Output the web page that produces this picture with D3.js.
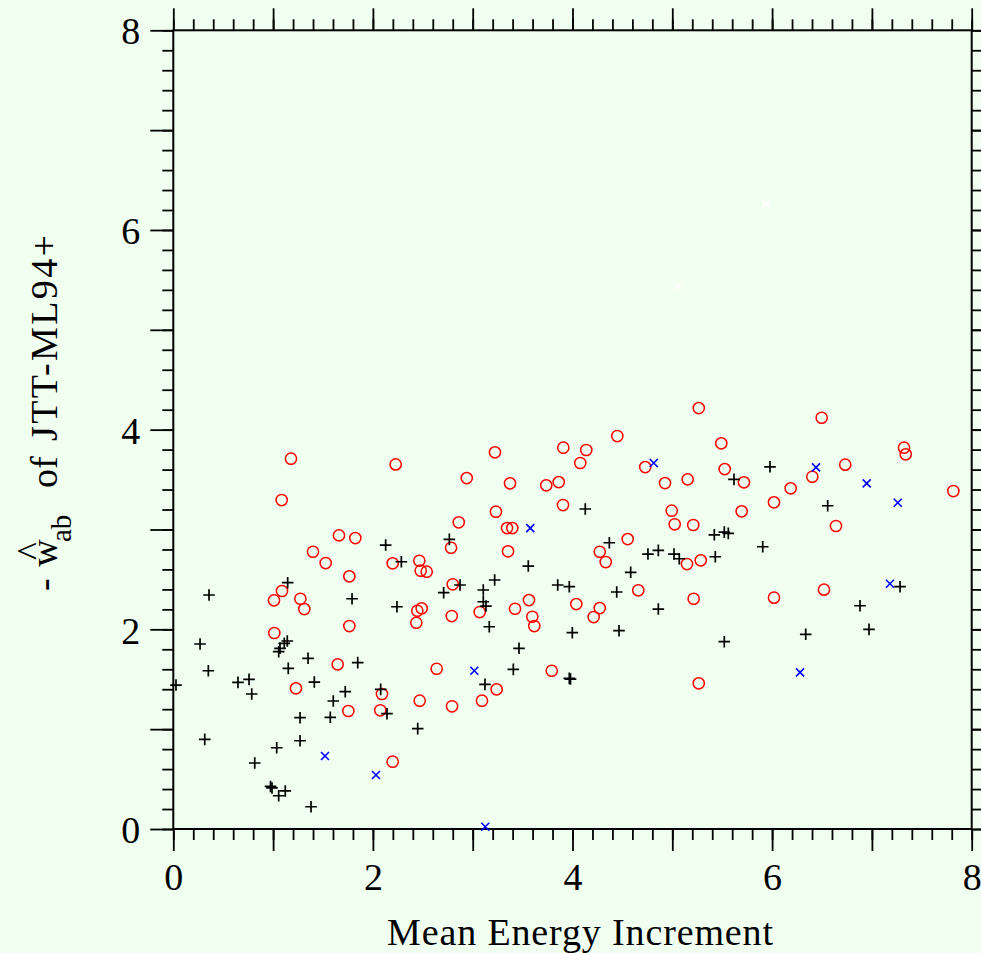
<!DOCTYPE html>
<html><head><meta charset="utf-8">
<script src="https://cdn.jsdelivr.net/npm/d3@7/dist/d3.min.js"></script>
<style>
body{margin:0;background:#f0fff0;} svg{display:block}
text{font-family:"Liberation Serif","Times New Roman",Times,serif;}
</style>
</head><body><svg id="c" width="981" height="953"></svg>
<script>
// ---- data ----
const majorTicks = [0,1,2,3,4,5,6,7,8];
const labelTicks = [0,2,4,6,8];
const minorTicks = d3.range(0, 41).map(i => i / 5);

const redCircles = [
[1.179,3.709],[2.228,3.652],[3.223,3.773],[2.940,3.515],[1.086,3.295],[3.233,3.178],[2.860,3.072],
[1.660,2.941],[1.824,2.914],[2.783,2.817],[1.400,2.777],[1.527,2.664],[2.198,2.661],[2.465,2.687],
[2.479,2.587],[2.539,2.577],[1.764,2.531],[2.800,2.451],[1.089,2.384],[1.009,2.290],[1.273,2.306],
[1.313,2.203],[2.445,2.186],[2.489,2.210],[2.790,2.133],[3.070,2.173],[2.435,2.066],[1.764,2.033],
[1.012,1.963],[1.647,1.649],[2.639,1.605],[3.240,1.399],[1.229,1.409],[2.091,1.352],[2.469,1.285],
[2.793,1.229],[3.093,1.285],[1.754,1.182],[2.074,1.189],[2.198,0.674],
[5.265,4.216],[4.449,3.936],[5.491,3.863],[3.908,3.819],[4.138,3.796],[4.078,3.666],[4.729,3.625],
[5.525,3.605],[3.374,3.462],[3.737,3.442],[3.862,3.475],[4.927,3.465],[5.154,3.502],[3.905,3.245],
[3.344,3.014],[3.397,3.014],[4.994,3.188],[5.024,3.052],[5.210,3.045],[3.354,2.781],[4.553,2.904],
[4.273,2.777],[4.333,2.674],[5.147,2.654],[5.285,2.691],[4.659,2.391],[5.214,2.306],[3.564,2.293],
[3.424,2.206],[4.038,2.253],[4.273,2.213],[3.597,2.126],[4.212,2.123],[3.617,2.033],[3.792,1.585],
[5.265,1.459],
[6.497,4.119],[7.322,3.819],[7.339,3.753],[6.733,3.649],[6.403,3.528],[5.718,3.472],[6.186,3.412],
[6.019,3.272],[7.816,3.385],[5.695,3.182],[6.640,3.035],[6.019,2.317],[6.520,2.397]
];

const blackPlus = [
[2.128,2.844],[2.766,2.901],[2.285,2.677],[3.220,2.494],[1.146,2.467],[2.873,2.444],[0.358,2.344],
[2.709,2.367],[3.106,2.394],[1.791,2.306],[3.106,2.276],[3.133,2.233],[2.241,2.226],[3.166,2.026],
[0.268,1.853],[1.069,1.810],[1.112,1.860],[1.142,1.883],[1.056,1.776],[1.350,1.710],[0.351,1.585],
[1.152,1.609],[1.848,1.666],[3.123,1.449],[0.027,1.442],[0.648,1.469],[0.759,1.499],[0.786,1.352],
[1.413,1.472],[1.723,1.375],[2.078,1.399],[1.603,1.282],[1.270,1.115],[1.573,1.119],[2.141,1.155],
[2.449,1.005],[0.315,0.898],[1.036,0.814],[1.270,0.884],[0.816,0.661],[0.974,0.426],[0.989,0.411],
[1.056,0.333],[1.122,0.381],[1.380,0.223],
[4.128,3.205],[5.421,2.947],[5.521,2.974],[5.561,2.961],[3.557,2.634],[4.369,2.867],[4.756,2.754],
[4.860,2.791],[5.017,2.754],[5.070,2.707],[5.431,2.727],[4.583,2.571],[3.852,2.444],[3.968,2.427],
[4.443,2.374],[4.860,2.203],[3.998,1.966],[4.466,1.986],[5.521,1.876],[3.464,1.810],[3.407,1.599],
[3.968,1.509],[3.980,1.502],
[5.979,3.628],[5.618,3.502],[6.557,3.238],[5.906,2.827],[7.282,2.427],[6.881,2.236],[6.971,2.000],
[6.337,1.950]
];

const blueCross = [
[3.016,1.585],[1.520,0.731],[2.031,0.541],[3.126,0.023],[4.814,3.666],[3.577,3.014],
[6.440,3.622],[6.948,3.462],[7.259,3.268],[7.181,2.457],[6.280,1.569]
];

const whiteCross = [[5.939,6.256],[5.054,5.441]];

// ---- drawing ----
const svg = d3.select("#c");
const W = 981, H = 953;
svg.append("rect").attr("width", W).attr("height", H).attr("fill", "#f0fff0");

const x = d3.scaleLinear().domain([0, 8]).range([173.3, 971.7]);
const y = d3.scaleLinear().domain([0, 8]).range([829, 30.3]);

function styleAxis(g) {
  g.select(".domain").remove();
  g.attr("font-family", null);
  g.selectAll(".tick line").attr("stroke", "#000").attr("stroke-width", 1.8);
  g.selectAll("text").attr("font-size", 38).attr("fill", "#000");
}
const fmt = d => (labelTicks.includes(d) ? d : "");

// bottom
svg.append("g").attr("transform", `translate(0,${y(0)})`)
  .call(d3.axisBottom(x).tickValues(minorTicks).tickSize(11).tickFormat("")).call(styleAxis);
svg.append("g").attr("transform", `translate(0,${y(0)})`)
  .call(d3.axisBottom(x).tickValues(majorTicks).tickSize(22).tickPadding(12).tickFormat(fmt)).call(styleAxis);
// top
svg.append("g").attr("transform", `translate(0,${y(8)})`)
  .call(d3.axisTop(x).tickValues(minorTicks).tickSize(11).tickFormat("")).call(styleAxis);
svg.append("g").attr("transform", `translate(0,${y(8)})`)
  .call(d3.axisTop(x).tickValues(majorTicks).tickSize(22).tickFormat("")).call(styleAxis);
// left
svg.append("g").attr("transform", `translate(${x(0)},0)`)
  .call(d3.axisLeft(y).tickValues(minorTicks).tickSize(11).tickFormat("")).call(styleAxis);
const gl = svg.append("g").attr("transform", `translate(${x(0)},0)`)
  .call(d3.axisLeft(y).tickValues(majorTicks).tickSize(23).tickPadding(10).tickFormat(fmt)).call(styleAxis);
gl.selectAll("text").attr("dy", "0.36em");
// right
svg.append("g").attr("transform", `translate(${x(8)},0)`)
  .call(d3.axisRight(y).tickValues(minorTicks).tickSize(11).tickFormat("")).call(styleAxis);
svg.append("g").attr("transform", `translate(${x(8)},0)`)
  .call(d3.axisRight(y).tickValues(majorTicks).tickSize(22).tickFormat("")).call(styleAxis);

// frame
svg.append("rect").attr("x", x(0)).attr("y", y(8))
  .attr("width", x(8) - x(0)).attr("height", y(0) - y(8))
  .attr("fill", "none").attr("stroke", "#000").attr("stroke-width", 2);

// marks
const plot = svg.append("g");
plot.selectAll("circle.red").data(redCircles).join("circle").attr("class", "red")
  .attr("cx", d => x(d[0])).attr("cy", d => y(d[1])).attr("r", 5.6)
  .attr("fill", "none").attr("stroke", "#ff0000").attr("stroke-width", 1.5);
plot.selectAll("path.plus").data(blackPlus).join("path").attr("class", "plus")
  .attr("transform", d => `translate(${x(d[0])},${y(d[1])})`)
  .attr("d", "M-5.8,0H5.8M0,-5.8V5.8")
  .attr("stroke", "#000").attr("stroke-width", 1.7).attr("fill", "none");
plot.selectAll("path.blue").data(blueCross).join("path").attr("class", "blue")
  .attr("transform", d => `translate(${x(d[0])},${y(d[1])})`)
  .attr("d", "M-4,-4L4,4M-4,4L4,-4")
  .attr("stroke", "#0000ff").attr("stroke-width", 1.6).attr("fill", "none");
plot.selectAll("path.white").data(whiteCross).join("path").attr("class", "white")
  .attr("transform", d => `translate(${x(d[0])},${y(d[1])})`)
  .attr("d", "M-4,-4L4,4M-4,4L4,-4")
  .attr("stroke", "#ffffff").attr("stroke-width", 1.6).attr("fill", "none");

// x title
svg.append("text").attr("x", 580).attr("y", 945).attr("text-anchor", "middle")
  .attr("font-size", 38)
  .attr("textLength", 386).attr("lengthAdjust", "spacing")
  .text("Mean Energy Increment");

// y title (rotated, pieces)
const yt = svg.append("g").attr("transform", "translate(57,0) rotate(-90)").attr("fill", "#000");
yt.append("text").attr("x", -591).attr("y", 0).attr("font-size", 38).text("-");
yt.append("text").attr("x", -553).attr("y", 0).attr("font-size", 38).attr("text-anchor", "middle").text("w");
yt.append("text").attr("x", -551).attr("y", -14).attr("font-size", 38).attr("text-anchor", "middle").text("^");
yt.append("text").attr("x", -542).attr("y", 14).attr("font-size", 29).text("ab");
yt.append("text").attr("x", -488).attr("y", 0).attr("font-size", 38).text("of");
yt.append("text").attr("x", -441).attr("y", 0).attr("font-size", 38)
  .attr("textLength", 206).attr("lengthAdjust", "spacing").text("JTT-ML94+");
</script>
</body></html>
